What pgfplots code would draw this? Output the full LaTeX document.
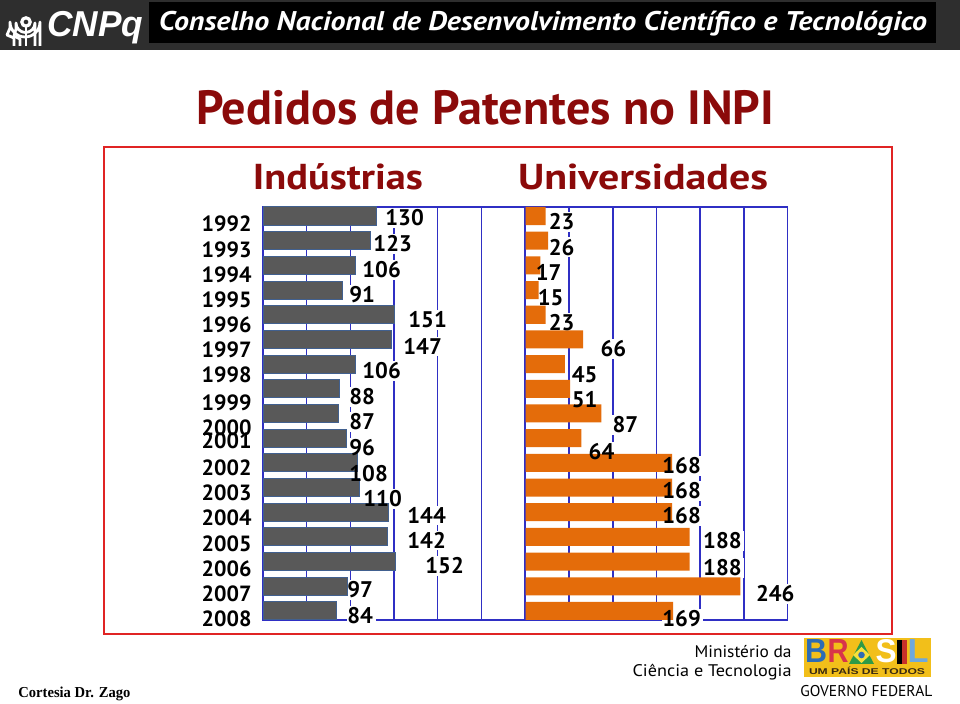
\documentclass[border=0pt]{standalone}
\usepackage{graphicx}
\usepackage{pgfplots}
\pgfplotsset{compat=1.18}
\usepackage{fontspec}
\setmainfont{PT Sans}
\newfontfamily\serifb{Liberation Serif}
\newfontfamily\heros{Liberation Sans}
\definecolor{barGray}{HTML}{595959}
\definecolor{barEdge}{HTML}{41608F}
\definecolor{barOrange}{HTML}{E46C0A}
\definecolor{gridBlue}{HTML}{2F2FC4}
\definecolor{titleRed}{HTML}{8B0A0A}
\definecolor{boxRed}{HTML}{E02424}
\definecolor{hdrGray}{HTML}{2E2E2E}
\definecolor{logoYellow}{HTML}{F2BF1A}
\definecolor{logoBlue}{HTML}{2D6CB5}
\definecolor{logoRed}{HTML}{D8344A}
\definecolor{logoGreen}{HTML}{2E9A47}
\definecolor{logoDiamond}{HTML}{F7E03A}
\definecolor{logoRed2}{HTML}{C8302A}
\definecolor{logoLight}{HTML}{6EA8DC}
\definecolor{logoText}{HTML}{3A2A10}

\pgfplotstableread{
v y
130 0
123 1
106 2
91 3
151 4
147 5
106 6
88 7
87 8
96 9
108 10
110 11
144 12
142 13
152 14
97 15
84 16
}\industrias

\pgfplotstableread{
v y
23 0
26 1
17 2
15 3
23 4
66 5
45 6
51 7
87 8
64 9
168 10
168 11
168 12
188 13
188 14
246 15
169 16
}\universidades

\newcommand\indlabels[2]{%
\node[#1] at (axis cs:139.7,0.08) {#2{130}};
\node[#1] at (axis cs:126.0,1.13) {#2{123}};
\node[#1] at (axis cs:113.4,2.19) {#2{106}};
\node[#1] at (axis cs:98.5,3.20) {#2{91}};
\node[#1] at (axis cs:166.0,4.21) {#2{151}};
\node[#1] at (axis cs:160.3,5.27) {#2{147}};
\node[#1] at (axis cs:113.4,6.28) {#2{106}};
\node[#1] at (axis cs:98.5,7.33) {#2{88}};
\node[#1] at (axis cs:98.5,8.34) {#2{87}};
\node[#1] at (axis cs:98.5,9.40) {#2{96}};
\node[#1] at (axis cs:98.5,10.45) {#2{108}};
\node[#1] at (axis cs:114.5,11.46) {#2{110}};
\node[#1] at (axis cs:164.9,12.15) {#2{144}};
\node[#1] at (axis cs:164.9,13.16) {#2{142}};
\node[#1] at (axis cs:185.5,14.18) {#2{152}};
\node[#1] at (axis cs:96.2,15.15) {#2{97}};
\node[#1] at (axis cs:96.2,16.20) {#2{84}};
}
\newcommand\unilabels[2]{%
\node[#1] at (axis cs:26.2,0.24) {#2{23}};
\node[#1] at (axis cs:26.2,1.26) {#2{26}};
\node[#1] at (axis cs:11.4,2.27) {#2{17}};
\node[#1] at (axis cs:13.7,3.32) {#2{15}};
\node[#1] at (axis cs:26.2,4.33) {#2{23}};
\node[#1] at (axis cs:85.5,5.39) {#2{66}};
\node[#1] at (axis cs:52.5,6.44) {#2{45}};
\node[#1] at (axis cs:52.5,7.45) {#2{51}};
\node[#1] at (axis cs:99.2,8.46) {#2{87}};
\node[#1] at (axis cs:71.9,9.56) {#2{64}};
\node[#1] at (axis cs:156.3,10.13) {#2{168}};
\node[#1] at (axis cs:156.3,11.14) {#2{168}};
\node[#1] at (axis cs:156.3,12.15) {#2{168}};
\node[#1] at (axis cs:203.0,13.16) {#2{188}};
\node[#1] at (axis cs:203.0,14.26) {#2{188}};
\node[#1] at (axis cs:263.5,15.31) {#2{246}};
\node[#1] at (axis cs:156.3,16.32) {#2{169}};
}

\pgfplotsset{
  patstyle/.style={
    scale only axis, width=131pt, height=206.5pt,
    xmin=0, xmax=300, ymin=-0.365, ymax=16.365, y dir=reverse,
    xbar, bar width=0.73, bar shift=0pt,
    xtick={0,50,...,300}, xticklabels={}, xmajorgrids,
    grid style={gridBlue, line width=0.7pt},
    axis line style={gridBlue, line width=0.7pt},
    major tick length=0pt,
    anchor=center, clip=false,
  },
}
\tikzset{
  lblfont/.style={font=\bfseries\fontsize{11.3}{11.3}\selectfont},
  lblbox/.style={lblfont, anchor=west, inner sep=0pt, fill=white, draw=white, line width=1.5pt},
  lbltext/.style={lblfont, anchor=west, inner sep=0pt, text=black},
  logoletter/.style={anchor=base, inner sep=0pt, font=\heros\bfseries\fontsize{17}{17}\selectfont},
}

\begin{document}
\begin{tikzpicture}
\useasboundingbox (0,0) rectangle (480pt,352pt);
\fill[white] (0,0) rectangle (480pt,352pt);

\begin{scope}[x=0.5pt,y=-0.5pt,yshift=352pt]
  % header
  \fill[hdrGray] (0,0) rectangle (960,50);
  \fill[black] (149,2) rectangle (936,43);
  \node[white, anchor=base, inner sep=0pt, font=\bfseries\itshape\fontsize{13.5}{13.5}\selectfont]
     at (543,31) {\resizebox{384pt}{\height}{Conselho Nacional de Desenvolvimento Científico e Tecnológico}};
  % CNPq logo icon (head profile)
  \draw[white, line width=1.4pt, line join=round]
     (14,46) -- (14,38) -- (7,35) -- (10,28) -- (10,22) arc[start angle=180, end angle=0, radius=15] -- (40,46);
  \draw[white, line width=1.4pt, line join=round]
     (20,46) -- (20,39) -- (14,36) -- (16,29) -- (16,23) arc[start angle=180, end angle=0, radius=9.5] -- (35,46);
  \draw[white, line width=1.6pt] (26,22) circle (4.2);
  \fill[white] (24.8,26.5) rectangle (27.2,46);
  \node[white, anchor=base west, inner sep=0pt, font=\heros\bfseries\itshape\fontsize{18}{18}\selectfont]
     at (47,37) {\resizebox{48pt}{\height}{CNPq}};
  % title
  \node[titleRed, anchor=base, inner sep=0pt, font=\bfseries\fontsize{24}{24}\selectfont]
     at (485,125) {\resizebox{289pt}{\height}{Pedidos de Patentes no INPI}};
  % red frame
  \draw[boxRed, line width=1.1pt] (104,147) rectangle (892,634);
  % subtitles
  \node[titleRed, anchor=base, inner sep=0pt, font=\bfseries\fontsize{18}{18}\selectfont]
     at (338,190) {\resizebox{85pt}{\height}{Indústrias}};
  \node[titleRed, anchor=base, inner sep=0pt, font=\bfseries\fontsize{18}{18}\selectfont]
     at (643,190) {\resizebox{125pt}{\height}{Universidades}};
  % bottom texts
  \node[black, anchor=base east, inner sep=0pt, font=\fontsize{8.4}{8.4}\selectfont]
     at (792,658) {\resizebox{48.5pt}{\height}{Ministério da}};
  \node[black, anchor=base east, inner sep=0pt, font=\fontsize{8.4}{8.4}\selectfont]
     at (792,677) {\resizebox{79.5pt}{\height}{Ciência e Tecnologia}};
  \node[black, anchor=base west, inner sep=0pt, font=\serifb\bfseries\fontsize{7.6}{7.6}\selectfont]
     at (18,698) {\resizebox{56pt}{\height}{Cortesia Dr. Zago}};
  % Brasil logo
  \fill[logoYellow] (804,638) rectangle (931,677);
  \node[logoletter, text=logoBlue] at (816,663) {\resizebox{11pt}{11.5pt}{B}};
  \node[logoletter, text=logoRed] at (838,663) {\resizebox{10.5pt}{11.5pt}{R}};
  \fill[logoGreen] (849,664) -- (861.5,640) -- (874,664) -- cycle;
  \fill[logoDiamond] (861.5,647) -- (870,655) -- (861.5,663) -- (853,655) -- cycle;
  \fill[logoBlue] (861.5,655) circle (3.3);
  \node[logoletter, text=white] at (886,663) {\resizebox{10.5pt}{11.5pt}{S}};
  \fill[black] (897,640) rectangle (902,664);
  \fill[logoRed2] (902,640) rectangle (907,664);
  \node[logoletter, text=logoLight] at (918,663) {\resizebox{10.5pt}{11.5pt}{L}};
  \node[logoText, anchor=base, inner sep=0pt, font=\heros\bfseries\fontsize{4.2}{4.2}\selectfont]
     at (867,674.5) {\resizebox{58pt}{\height}{UM PAÍS DE TODOS}};
  \node[black, anchor=base west, inner sep=0pt, font=\fontsize{7.8}{7.8}\selectfont]
     at (800,697) {\resizebox{66pt}{\height}{GOVERNO FEDERAL}};
\end{scope}

% Industrias
\begin{axis}[patstyle, at={(197pt,145.25pt)},
  ytick={0.32,1.36,2.39,3.38,4.41,5.43,6.44,7.57,8.57,9.11,10.21,11.22,12.23,13.28,14.29,15.31,16.32},
  yticklabels={1992,1993,1994,1995,1996,1997,1998,1999,2000,2001,2002,2003,2004,2005,2006,2007,2008},
  yticklabel style={anchor=east, inner sep=0pt, xshift=-5.5pt, font=\bfseries\fontsize{11}{11}\selectfont},
]
\indlabels{lblbox}{\phantom}
\addplot[fill=barGray, draw=barEdge, line width=0.5pt] table[x=v, y=y] {\industrias};
\indlabels{lbltext}{\mbox}
\end{axis}

% Universidades
\begin{axis}[patstyle, at={(328.25pt,145.25pt)}, ytick=\empty]
\unilabels{lblbox}{\phantom}
\addplot[fill=barOrange, draw=none] table[x=v, y=y] {\universidades};
\unilabels{lbltext}{\mbox}
\end{axis}
\end{tikzpicture}
\end{document}
